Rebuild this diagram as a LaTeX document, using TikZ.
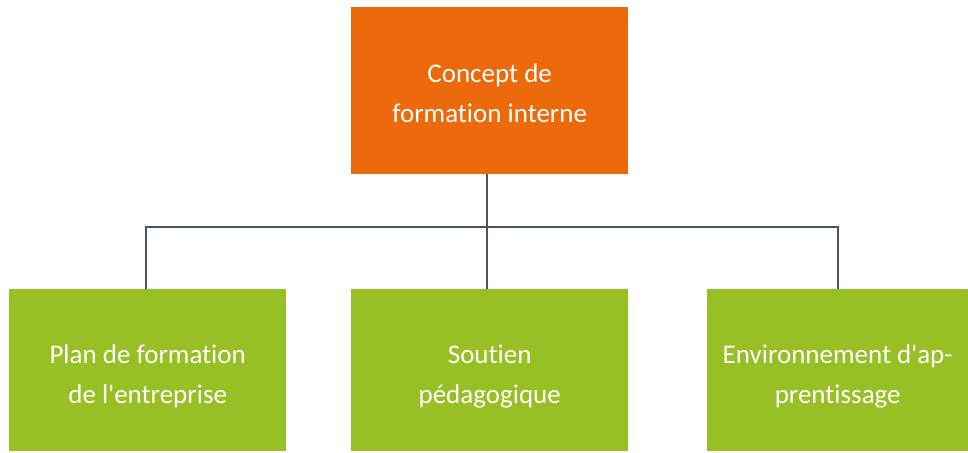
\documentclass[tikz,border=0pt]{standalone}
\usepackage{fontspec}
\setmainfont{Carlito}[Ligatures={NoCommon}]
\definecolor{topfill}{HTML}{EC6A0C}
\definecolor{leaffill}{HTML}{97C024}
\definecolor{linkcol}{HTML}{4A5468}
\begin{document}
\begin{tikzpicture}[x=1pt,y=-1pt,
  box/.style={draw=none, inner sep=0pt, anchor=north west},
  topbox/.style={box, fill=topfill},
  leafbox/.style={box, fill=leaffill},
  caption/.style={text=white, align=center, inner sep=0pt,
    font=\fontsize{27}{40}\selectfont},
  link/.style={draw=linkcol, line width=2.2pt}]
\useasboundingbox (0,0) rectangle (968,452);
% boxes
\node[topbox, minimum width=277pt, minimum height=167pt] (root) at (351,7) {};
\node[leafbox, minimum width=277pt, minimum height=162pt] (plan) at (9,289) {};
\node[leafbox, minimum width=277pt, minimum height=162pt] (soutien) at (351,289) {};
\node[leafbox, minimum width=261pt, minimum height=162pt] (env) at (707,289) {};
% captions
\node[caption] (rootT) at ([yshift=-3pt]root.center) {Concept de\\formation interne};
\node[caption] (planT) at ([yshift=-6pt]plan.center) {Plan de formation\\de l\textquotesingle entreprise};
\node[caption] (soutienT) at ([yshift=-6pt]soutien.center) {Soutien\\pédagogique};
\node[caption] (envT) at ([yshift=-6pt]env.center) {Environnement d\textquotesingle ap-\\prentissage};
% connectors
\coordinate (bus) at (0,227);
\draw[link] ([xshift=-3pt]root.south) -- ([xshift=-3pt]soutien.north);
\draw[link] ([xshift=-2pt]plan.north) |- (bus -| env.north) -- (env.north);
\end{tikzpicture}
\end{document}
